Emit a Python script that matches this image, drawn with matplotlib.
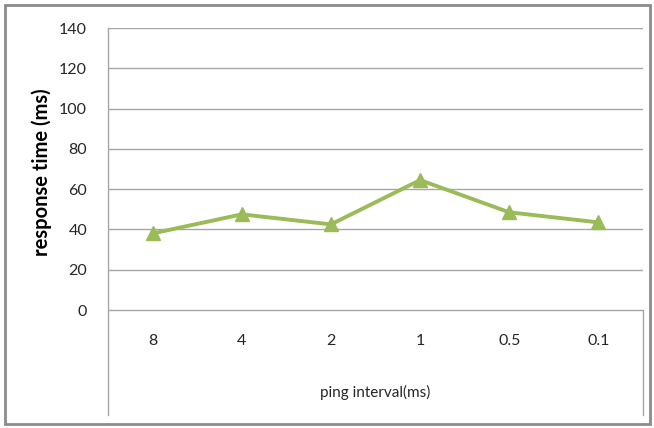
import matplotlib.pyplot as plt
from matplotlib.patches import Rectangle

# data
intervals = ["8", "4", "2", "1", "0.5", "0.1"]
response_ms = [38, 47.5, 42.5, 64.5, 48.5, 43.5]
y_ticks = [0, 20, 40, 60, 80, 100, 120, 140]

plt.rcParams['font.family'] = ['Lato', 'DejaVu Sans']

W, H = 654, 428
fig = plt.figure(figsize=(W / 100, H / 100), dpi=100)

# axes spans plot area plus the category band below it (Excel style)
left, right, top, bottom = 108, 643, 28, 415
ax = fig.add_axes([left / W, 1 - bottom / H, (right - left) / W, (bottom - top) / H])

px_per_unit = (310 - top) / 140.0
y_low = -(bottom - 310) / px_per_unit
ax.set_ylim(y_low, 140)
ax.set_xlim(-0.5, len(intervals) - 0.5)

grid_col = "#A6A6A6"
for v in y_ticks:
    ax.axhline(v, color=grid_col, lw=1.0, zorder=1)

x = list(range(len(intervals)))
ax.plot(x, response_ms, color="#9BBB59", lw=2.8, marker="^", ms=10,
        markerfacecolor="#9BBB59", markeredgecolor="#9BBB59", zorder=3)

ax.set_yticks(y_ticks)
ax.set_yticklabels([str(v) for v in y_ticks], fontsize=11.5, color="#262626")
ax.tick_params(axis="y", length=0, pad=15)
ax.set_xticks([])

for s in ["top", "right", "bottom"]:
    ax.spines[s].set_visible(False)
ax.spines["left"].set_color(grid_col)
ax.spines["left"].set_linewidth(1.0)
# right edge of category band
ax.plot([len(intervals) - 0.5] * 2, [y_low, 0], color=grid_col, lw=1.0, clip_on=False)

cat_y = -(341 - 310) / px_per_unit
for xi, lab in zip(x, intervals):
    ax.text(xi, cat_y, lab, ha="center", va="center", fontsize=11.5, color="#262626")

lab_y = -(392 - 310) / px_per_unit
ax.text((len(intervals) - 1) / 2, lab_y, "ping interval(ms)", ha="center", va="center",
        fontsize=11, color="#262626")

fig.text(42 / W, 1 - 172 / H, "response time (ms)", rotation=90, ha="center", va="center",
         fontsize=14.5, fontweight="bold", color="#000000")

fig.patches.append(Rectangle((5 / W, 4 / H), 645 / W, 419 / H, transform=fig.transFigure,
                             fill=False, edgecolor="#8C8C8C", lw=2))

fig.savefig("out.png", dpi=100)
